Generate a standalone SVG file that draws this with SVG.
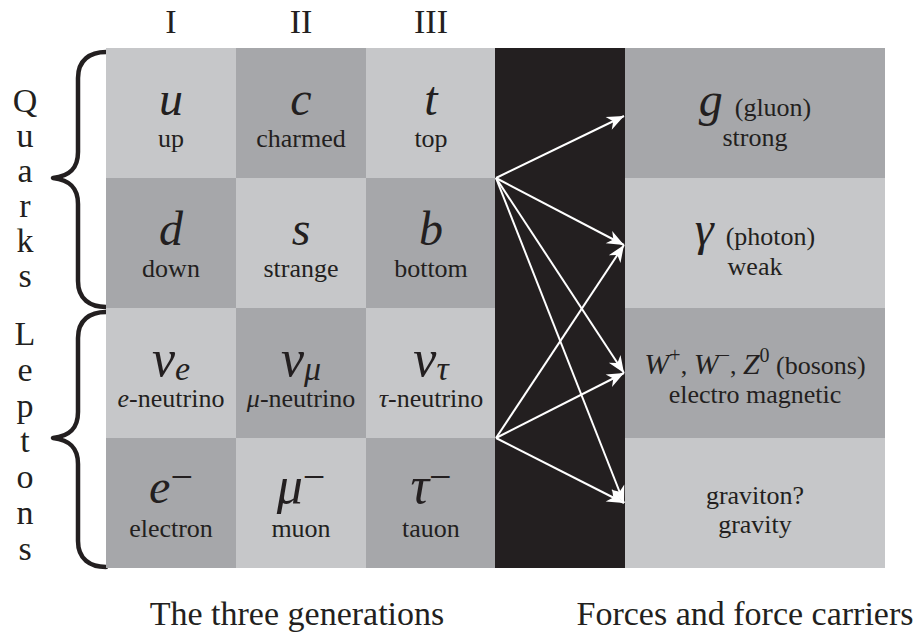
<svg xmlns="http://www.w3.org/2000/svg" width="917" height="642" viewBox="0 0 917 642" font-family="'Liberation Serif', serif">
<defs>
<style>
.lt{fill:#c6c7c9}
.dk{fill:#a6a7aa}
.bk{fill:#231f20}
text{font-family:'Liberation Serif',serif;fill:#231f20}
.hd{font-size:34px;text-anchor:middle}
.sym{font-size:48px;font-style:italic;text-anchor:middle}
.gk{font-size:52px;font-style:italic;text-anchor:middle}
.nm{font-size:26px;text-anchor:middle}
.it{font-style:italic}
.cap{font-size:34px;text-anchor:middle}
.brace{fill:none;stroke:#231f20;stroke-width:4.5;stroke-linecap:round;stroke-linejoin:round}
.arr{stroke:#fff;stroke-width:2;fill:none}
</style>
<marker id="ah" viewBox="-18 -8 20 16" refX="0" refY="0" markerWidth="20" markerHeight="16" markerUnits="userSpaceOnUse" orient="auto">
<path d="M0,0 L-17,-7 L-12,0 L-17,7 Z" fill="#fff"/>
</marker>
</defs>
<rect width="917" height="642" fill="#fff"/>

<g id="headers">
<text class="hd" x="171" y="33">I</text>
<text class="hd" x="301" y="33">II</text>
<text class="hd" x="431" y="33">III</text>
</g>

<g id="quarks-label">
<text class="hd" x="25" y="112">Q</text>
<text class="hd" x="25" y="147">u</text>
<text class="hd" x="25" y="182">a</text>
<text class="hd" x="25" y="217">r</text>
<text class="hd" x="25" y="252">k</text>
<text class="hd" x="25" y="287">s</text>
<path class="brace" d="M106,52 C90,52 78,60 78,78 L78,152 C78,168 70,176 53,178 C70,180 78,188 78,204 L78,281 C78,299 90,307 106,307"/>
</g>

<g id="leptons-label">
<text class="hd" x="25" y="345">L</text>
<text class="hd" x="25" y="381">e</text>
<text class="hd" x="25" y="417">p</text>
<text class="hd" x="25" y="452">t</text>
<text class="hd" x="25" y="488">o</text>
<text class="hd" x="25" y="524">n</text>
<text class="hd" x="25" y="560">s</text>
<path class="brace" d="M106,312 C90,312 78,320 78,338 L78,412 C78,428 70,436 53,438 C70,440 78,448 78,464 L78,541 C78,559 90,567 106,567"/>
</g>

<g id="cell-u"><rect class="lt" x="106" y="48" width="130" height="130"/><text class="sym" x="171" y="115">u</text><text class="nm" x="171" y="147">up</text></g>
<g id="cell-c"><rect class="dk" x="236" y="48" width="130" height="130"/><text class="sym" x="301" y="115">c</text><text class="nm" x="301" y="147">charmed</text></g>
<g id="cell-t"><rect class="lt" x="366" y="48" width="129" height="130"/><text class="sym" x="431" y="115">t</text><text class="nm" x="431" y="147">top</text></g>

<g id="cell-d"><rect class="dk" x="106" y="178" width="130" height="130"/><text class="sym" x="171" y="245">d</text><text class="nm" x="171" y="277">down</text></g>
<g id="cell-s"><rect class="lt" x="236" y="178" width="130" height="130"/><text class="sym" x="301" y="245">s</text><text class="nm" x="301" y="277">strange</text></g>
<g id="cell-b"><rect class="dk" x="366" y="178" width="129" height="130"/><text class="sym" x="431" y="245">b</text><text class="nm" x="431" y="277">bottom</text></g>

<g id="cell-nu-e"><rect class="lt" x="106" y="308" width="130" height="130"/><text class="gk" x="171" y="376">ν<tspan font-size="34" dy="4">e</tspan></text><text class="nm" x="171" y="407"><tspan class="it">e</tspan>-neutrino</text></g>
<g id="cell-nu-mu"><rect class="dk" x="236" y="308" width="130" height="130"/><text class="gk" x="301" y="376">ν<tspan font-size="34" dy="4">μ</tspan></text><text class="nm" x="301" y="407"><tspan class="it">μ</tspan>-neutrino</text></g>
<g id="cell-nu-tau"><rect class="lt" x="366" y="308" width="129" height="130"/><text class="gk" x="431" y="376">ν<tspan font-size="34" dy="4">τ</tspan></text><text class="nm" x="431" y="407"><tspan class="it">τ</tspan>-neutrino</text></g>

<g id="cell-e"><rect class="dk" x="106" y="438" width="130" height="130"/><text class="sym" x="171" y="503">e<tspan font-size="40" font-style="normal" dy="-13">−</tspan></text><text class="nm" x="171" y="537">electron</text></g>
<g id="cell-mu"><rect class="lt" x="236" y="438" width="130" height="130"/><text class="gk" x="301" y="503">μ<tspan font-size="40" font-style="normal" dy="-13">−</tspan></text><text class="nm" x="301" y="537">muon</text></g>
<g id="cell-tau"><rect class="dk" x="366" y="438" width="129" height="130"/><text class="gk" x="431" y="503">τ<tspan font-size="40" font-style="normal" dy="-13">−</tspan></text><text class="nm" x="431" y="537">tauon</text></g>

<g id="interaction-band"><rect class="bk" x="495" y="48" width="130" height="520"/></g>

<g id="force-gluon"><rect class="dk" x="625" y="48" width="260" height="130"/><text class="nm" x="755" y="116"><tspan class="it" font-size="48">g</tspan><tspan dx="12">(gluon)</tspan></text><text class="nm" x="755" y="146">strong</text></g>
<g id="force-photon"><rect class="lt" x="625" y="178" width="260" height="130"/><text class="nm" x="755" y="245"><tspan class="it" font-size="48">γ</tspan><tspan dx="12">(photon)</tspan></text><text class="nm" x="755" y="275">weak</text></g>
<g id="force-bosons"><rect class="dk" x="625" y="308" width="260" height="130"/><text class="nm" x="755" y="374" font-size="28"><tspan class="it" font-size="30">W</tspan><tspan font-size="20" dy="-12">+</tspan><tspan dy="12">, </tspan><tspan class="it" font-size="30">W</tspan><tspan font-size="20" dy="-12">−</tspan><tspan dy="12">, </tspan><tspan class="it" font-size="30">Z</tspan><tspan font-size="20" dy="-12">0</tspan><tspan dy="12"> (bosons)</tspan></text><text class="nm" x="755" y="403">electro magnetic</text></g>
<g id="force-graviton"><rect class="lt" x="625" y="438" width="260" height="130"/><text class="nm" x="755" y="504">graviton?</text><text class="nm" x="755" y="533">gravity</text></g>

<g id="connectors" class="arr">
<line x1="496" y1="178" x2="624" y2="116" marker-end="url(#ah)"/>
<line x1="496" y1="178" x2="624" y2="245" marker-end="url(#ah)"/>
<line x1="496" y1="178" x2="624" y2="373" marker-end="url(#ah)"/>
<line x1="496" y1="178" x2="624" y2="503" marker-end="url(#ah)"/>
<line x1="496" y1="438" x2="624" y2="245" marker-end="url(#ah)"/>
<line x1="496" y1="438" x2="624" y2="373" marker-end="url(#ah)"/>
<line x1="496" y1="438" x2="624" y2="503" marker-end="url(#ah)"/>
</g>

<g id="captions">
<text class="cap" x="297" y="625">The three generations</text>
<text class="cap" x="745" y="625">Forces and force carriers</text>
</g>
</svg>
